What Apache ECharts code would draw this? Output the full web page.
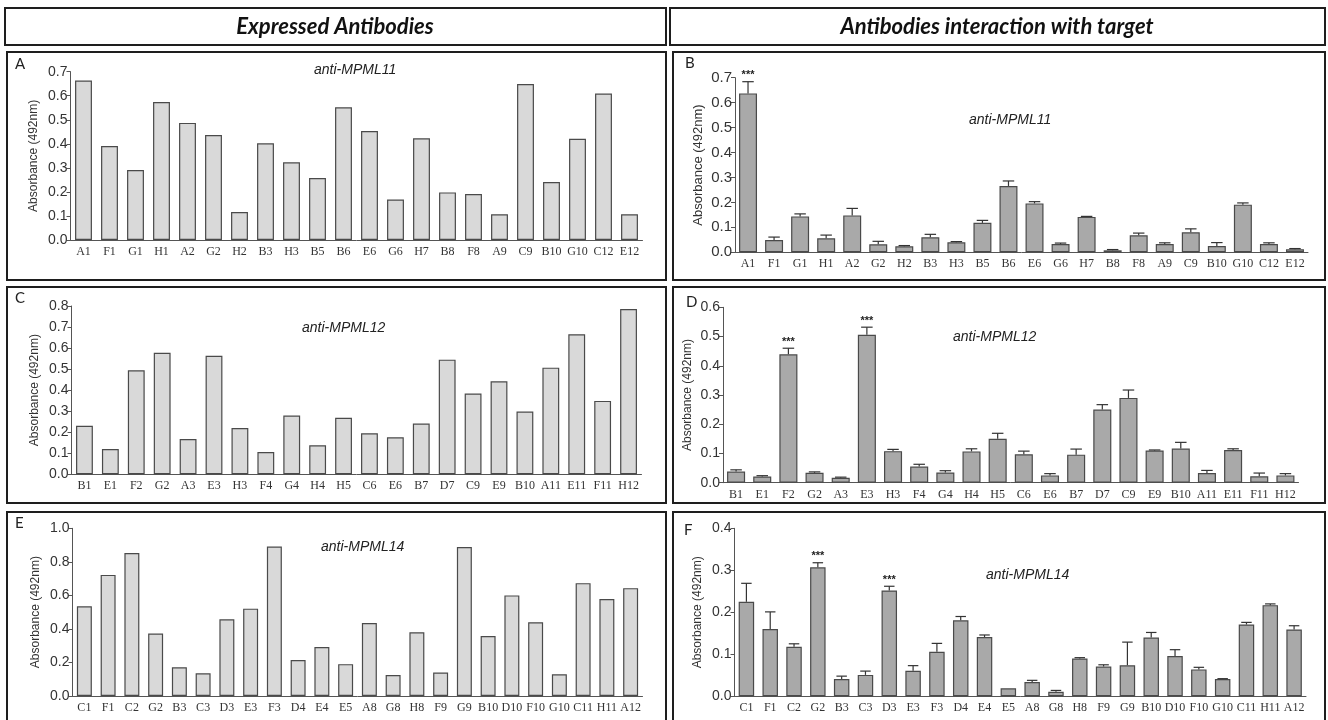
<!DOCTYPE html>
<html>
<head>
<meta charset="utf-8">
<script src="https://cdn.jsdelivr.net/npm/echarts@6/dist/echarts.min.js"></script>
<style>
  html, body { margin: 0; padding: 0; background: #fff; }
  #chart { width: 1328px; height: 720px; }
</style>
</head>
<body>
<div id="chart"></div>
<script>
// Clone names for each antibody library
const clonesMPML11 = ['A1','F1','G1','H1','A2','G2','H2','B3','H3','B5','B6','E6','G6','H7','B8','F8','A9','C9','B10','G10','C12','E12'];
const clonesMPML12 = ['B1','E1','F2','G2','A3','E3','H3','F4','G4','H4','H5','C6','E6','B7','D7','C9','E9','B10','A11','E11','F11','H12'];
const clonesMPML14 = ['C1','F1','C2','G2','B3','C3','D3','E3','F3','D4','E4','E5','A8','G8','H8','F9','G9','B10','D10','F10','G10','C11','H11','A12'];

// Expression levels (absorbance at 492 nm)
const expressedMPML11 = [0.663,0.391,0.291,0.574,0.487,0.437,0.116,0.402,0.323,0.258,0.552,0.453,0.168,0.423,0.198,0.191,0.107,0.649,0.241,0.421,0.609,0.107];
const expressedMPML12 = [0.231,0.120,0.494,0.578,0.168,0.563,0.220,0.106,0.279,0.138,0.269,0.195,0.176,0.241,0.545,0.384,0.442,0.298,0.507,0.666,0.349,0.786];
const expressedMPML14 = [0.535,0.722,0.853,0.372,0.171,0.135,0.457,0.521,0.891,0.215,0.292,0.190,0.435,0.125,0.380,0.140,0.888,0.358,0.600,0.440,0.130,0.673,0.578,0.643];

// Binding to target: mean and SEM
const bindingMPML11 = [0.637,0.049,0.144,0.056,0.148,0.032,0.024,0.060,0.040,0.118,0.266,0.196,0.033,0.142,0.008,0.068,0.033,0.080,0.025,0.191,0.033,0.012];
const semMPML11     = [0.047,0.012,0.010,0.013,0.028,0.012,0.003,0.012,0.003,0.010,0.020,0.007,0.004,0.002,0.003,0.009,0.005,0.014,0.014,0.007,0.005,0.003];
const bindingMPML12 = [0.038,0.021,0.439,0.034,0.017,0.506,0.108,0.055,0.035,0.107,0.150,0.097,0.025,0.096,0.250,0.290,0.110,0.117,0.033,0.112,0.022,0.025];
const semMPML12     = [0.006,0.003,0.021,0.003,0.002,0.026,0.006,0.008,0.006,0.009,0.019,0.011,0.006,0.019,0.017,0.027,0.002,0.021,0.009,0.004,0.011,0.006];
const bindingMPML14 = [0.225,0.160,0.118,0.307,0.041,0.051,0.252,0.061,0.106,0.181,0.141,0.019,0.034,0.011,0.090,0.071,0.074,0.140,0.096,0.064,0.041,0.171,0.217,0.159];
const semMPML14     = [0.044,0.041,0.007,0.011,0.007,0.009,0.010,0.012,0.020,0.009,0.005,0.000,0.004,0.003,0.002,0.004,0.055,0.012,0.015,0.005,0.001,0.005,0.003,0.009];

// Clones flagged as significant binders
const sigMPML11 = ['A1'];
const sigMPML12 = ['F2','E3'];
const sigMPML14 = ['G2','D3'];

const yTitle = 'Absorbance (492nm)';

const panels = [
  { letter:'A', title:'anti-MPML11', cats:clonesMPML11, vals:expressedMPML11, max:0.7, step:0.1,
    grid:{left:70.5, top:71.7, width:572, height:168.3}, fill:'#d9d9d9', gap:'35%',
    letterPos:[15,64], titlePos:[314,70], tickFont:14, nameFont:12, nameGap:31 },
  { letter:'B', title:'anti-MPML11', cats:clonesMPML11, vals:bindingMPML11, sem:semMPML11, sig:sigMPML11, max:0.7, step:0.1,
    grid:{left:735, top:77.7, width:573, height:174.6}, fill:'#a9a9a9', gap:'31%',
    letterPos:[685,63], titlePos:[969,120], tickFont:15, nameFont:13, nameGap:30 },
  { letter:'C', title:'anti-MPML12', cats:clonesMPML12, vals:expressedMPML12, max:0.8, step:0.1,
    grid:{left:71.5, top:306, width:570, height:168.3}, fill:'#d9d9d9', gap:'35%',
    letterPos:[15,298], titlePos:[302,328], tickFont:14, nameFont:12, nameGap:31 },
  { letter:'D', title:'anti-MPML12', cats:clonesMPML12, vals:bindingMPML12, sem:semMPML12, sig:sigMPML12, max:0.6, step:0.1,
    grid:{left:723, top:307.3, width:575.5, height:175.4}, fill:'#a9a9a9', gap:'31%',
    letterPos:[686,302], titlePos:[953,337], tickFont:14, nameFont:12, nameGap:29 },
  { letter:'E', title:'anti-MPML14', cats:clonesMPML14, vals:expressedMPML14, max:1.0, step:0.2,
    grid:{left:72.5, top:528.3, width:570, height:167.7}, fill:'#d9d9d9', gap:'37%',
    letterPos:[15,523], titlePos:[321,547], tickFont:14, nameFont:12, nameGap:31 },
  { letter:'F', title:'anti-MPML14', cats:clonesMPML14, vals:bindingMPML14, sem:semMPML14, sig:sigMPML14, max:0.4, step:0.1,
    grid:{left:734.5, top:528.3, width:571.5, height:168}, fill:'#a9a9a9', gap:'35%',
    letterPos:[684,530], titlePos:[986,575], tickFont:14, nameFont:12, nameGap:31 }
];

const axisColor = '#555';

// Upward SEM whisker with cap, plus significance stars
function errorBarRenderer(sigList, cats) {
  return function (params, api) {
    const idx = api.value(0), mean = api.value(1), err = api.value(2);
    const base = api.coord([idx, mean]);
    const top = api.coord([idx, mean + err]);
    const half = api.size([1, 0])[0] * 0.22;
    const style = { stroke: '#333', lineWidth: 1.2 };
    const children = [];
    if (err > 0) {
      children.push({ type:'line', shape:{x1:base[0], y1:base[1], x2:top[0], y2:top[1]}, style });
      children.push({ type:'line', shape:{x1:top[0]-half, y1:top[1], x2:top[0]+half, y2:top[1]}, style });
    }
    if (sigList.indexOf(cats[idx]) >= 0) {
      children.push({ type:'text', x: top[0], y: top[1] - 1,
        style:{ text:'***', fill:'#222', font:'bold 11px "Liberation Sans"', align:'center', verticalAlign:'bottom',
                textAlign:'center', textVerticalAlign:'bottom' } });
    }
    return { type:'group', children };
  };
}

const grids = [], xAxes = [], yAxes = [], series = [];
panels.forEach((p, i) => {
  grids.push(Object.assign({ containLabel:false }, p.grid));
  xAxes.push({
    type:'category', gridIndex:i, data:p.cats,
    axisLine:{ lineStyle:{ color:axisColor, width:1 } },
    axisTick:{ alignWithLabel:true, length:4, lineStyle:{ color:axisColor } },
    axisLabel:{ interval:0, fontFamily:'"Liberation Serif", serif', fontSize:12, color:'#333', margin:6 }
  });
  yAxes.push({
    type:'value', gridIndex:i, min:0, max:p.max, interval:p.step,
    axisLine:{ show:true, lineStyle:{ color:axisColor, width:1 } },
    axisTick:{ show:true, length:4, lineStyle:{ color:axisColor } },
    splitLine:{ show:false },
    axisLabel:{ formatter: v => v.toFixed(1), fontFamily:'"Liberation Sans", Arial', fontSize:p.tickFont, color:'#333', margin:3 },
    name: yTitle, nameLocation:'middle', nameGap:p.nameGap,
    nameTextStyle:{ fontFamily:'"Liberation Sans", Arial', fontSize:p.nameFont, color:'#333' }
  });
  series.push({
    type:'bar', xAxisIndex:i, yAxisIndex:i, data:p.vals, barCategoryGap:p.gap,
    itemStyle:{ color:p.fill, borderColor:'#4a4a4a', borderWidth:1.2 },
    silent:true
  });
  if (p.sem) {
    series.push({
      type:'custom', xAxisIndex:i, yAxisIndex:i, z:5, silent:true,
      data: p.vals.map((v, k) => [k, v, p.sem[k]]),
      renderItem: errorBarRenderer(p.sig, p.cats)
    });
  }
});

// Frames, column headers, panel letters and panel titles
const frameStyle = { fill:'none', stroke:'#1e1e1e', lineWidth:2 };
const graphics = [
  { type:'rect', shape:{x:5, y:8, width:661, height:37}, style:frameStyle },
  { type:'rect', shape:{x:670, y:8, width:655, height:37}, style:frameStyle },
  { type:'rect', shape:{x:7, y:52, width:659, height:228}, style:frameStyle },
  { type:'rect', shape:{x:673, y:52, width:652, height:228}, style:frameStyle },
  { type:'rect', shape:{x:7, y:287, width:659, height:216}, style:frameStyle },
  { type:'rect', shape:{x:673, y:287, width:652, height:216}, style:frameStyle },
  { type:'rect', shape:{x:7, y:512, width:659, height:212}, style:frameStyle },
  { type:'rect', shape:{x:673, y:512, width:652, height:212}, style:frameStyle },
  { type:'text', x:335, y:27, style:{ text:'Expressed Antibodies', fill:'#111',
      font:'italic bold 22px Lato, "Open Sans", sans-serif', align:'center', verticalAlign:'middle',
      textAlign:'center', textVerticalAlign:'middle' } },
  { type:'text', x:997, y:27, style:{ text:'Antibodies interaction with target', fill:'#111',
      font:'italic bold 22px Lato, "Open Sans", sans-serif', align:'center', verticalAlign:'middle',
      textAlign:'center', textVerticalAlign:'middle' } }
];
panels.forEach(p => {
  graphics.push({ type:'text', x:p.letterPos[0], y:p.letterPos[1], style:{ text:p.letter, fill:'#222',
    font:'15px Lato, "Open Sans", sans-serif', verticalAlign:'middle', textVerticalAlign:'middle' } });
  graphics.push({ type:'text', x:p.titlePos[0], y:p.titlePos[1], style:{ text:p.title, fill:'#222',
    font:'italic 14px "Liberation Sans", Arial', verticalAlign:'middle', textVerticalAlign:'middle' } });
});

const chart = echarts.init(document.getElementById('chart'), null, { renderer:'canvas' });
chart.setOption({
  backgroundColor:'#fff',
  animation:false,
  grid:grids, xAxis:xAxes, yAxis:yAxes, series:series,
  graphic:{ elements:graphics }
});
</script>
</body>
</html>
